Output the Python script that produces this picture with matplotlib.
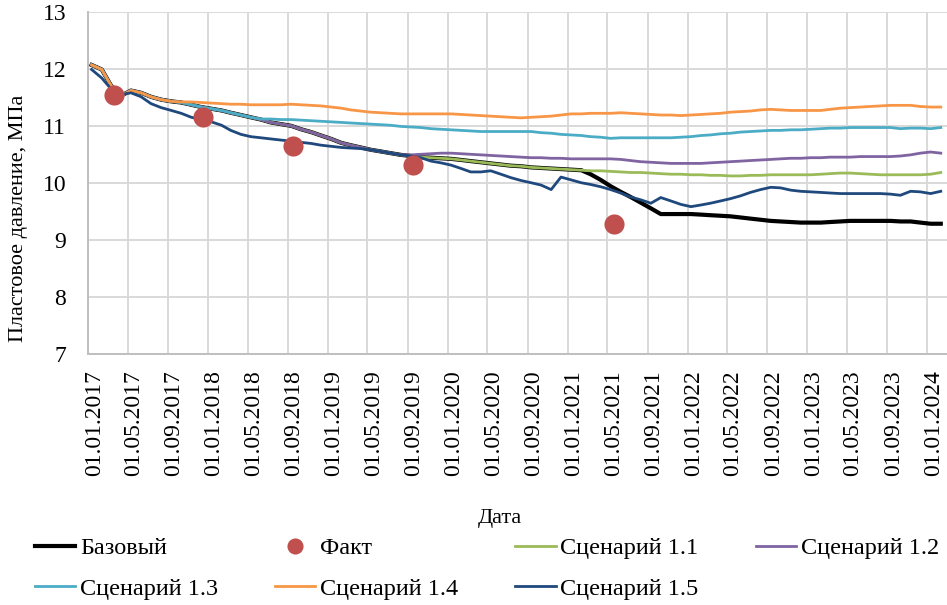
import pandas as pd
import matplotlib
matplotlib.use('Agg')
import matplotlib.pyplot as plt
import matplotlib.dates as mdates
import matplotlib.transforms as mtransforms

plt.rcParams['font.family'] = ['Liberation Serif', 'DejaVu Serif']
plt.rcParams['font.size'] = 16

# monthly model points (around the 11th of each month), Jan 2017 - Feb 2024
dates = pd.date_range('2017-01-01', periods=86, freq='MS') + pd.Timedelta(days=10)

base = [12.07, 11.99, 11.71, 11.53, 11.62, 11.58, 11.51, 11.46, 11.43, 11.41,
        11.37, 11.33, 11.30, 11.27, 11.23, 11.19, 11.15, 11.11, 11.06, 11.03,
        11.00, 10.94, 10.89, 10.83, 10.77, 10.70, 10.66, 10.62, 10.58, 10.55,
        10.52, 10.49, 10.47, 10.45, 10.44, 10.43, 10.42, 10.40, 10.38, 10.36,
        10.34, 10.32, 10.30, 10.29, 10.27, 10.26, 10.25, 10.24, 10.23, 10.22,
        10.15, 10.05, 9.94, 9.84, 9.75, 9.65, 9.55, 9.45, 9.45, 9.45,
        9.45, 9.44, 9.43, 9.42, 9.41, 9.39, 9.37, 9.35, 9.33, 9.32,
        9.31, 9.30, 9.30, 9.30, 9.31, 9.32, 9.33, 9.33, 9.33, 9.33,
        9.33, 9.32, 9.32, 9.30, 9.28, 9.28]

# scenarios follow the base case until they branch off
s11 = base[:50] + [
    10.21, 10.21, 10.20, 10.19, 10.18, 10.18, 10.17, 10.16, 10.15, 10.15,
    10.14, 10.14, 10.13, 10.13, 10.12, 10.12, 10.13, 10.13, 10.14, 10.14,
    10.14, 10.14, 10.14, 10.15, 10.16, 10.17, 10.17, 10.16, 10.15, 10.14,
    10.14, 10.14, 10.14, 10.14, 10.15, 10.18]

s12 = base[:32] + [
    10.49, 10.50, 10.51, 10.52, 10.52, 10.51, 10.50, 10.49, 10.48, 10.47,
    10.46, 10.45, 10.44, 10.44, 10.43, 10.43, 10.42, 10.42, 10.42, 10.42,
    10.42, 10.41, 10.39, 10.37, 10.36, 10.35, 10.34, 10.34, 10.34, 10.34,
    10.35, 10.36, 10.37, 10.38, 10.39, 10.40, 10.41, 10.42, 10.43, 10.43,
    10.44, 10.44, 10.45, 10.45, 10.45, 10.46, 10.46, 10.46, 10.46, 10.47,
    10.49, 10.52, 10.54, 10.52]

s13 = base[:17] + [
    11.12, 11.12, 11.11, 11.11, 11.10, 11.09, 11.08, 11.07, 11.06, 11.05,
    11.04, 11.03, 11.02, 11.01, 10.99, 10.98, 10.97, 10.95, 10.94, 10.93,
    10.92, 10.91, 10.90, 10.90, 10.90, 10.90, 10.90, 10.90, 10.88, 10.87,
    10.85, 10.84, 10.83, 10.81, 10.80, 10.78, 10.79, 10.79, 10.79, 10.79,
    10.79, 10.79, 10.80, 10.81, 10.83, 10.84, 10.86, 10.87, 10.89, 10.90,
    10.91, 10.92, 10.92, 10.93, 10.93, 10.94, 10.95, 10.96, 10.96, 10.97,
    10.97, 10.97, 10.97, 10.97, 10.95, 10.96, 10.96, 10.95, 10.97]

s14 = base[:9] + [
    11.42, 11.42, 11.41, 11.40, 11.39, 11.38, 11.38, 11.37, 11.37, 11.37,
    11.37, 11.38, 11.37, 11.36, 11.35, 11.33, 11.31, 11.28, 11.26, 11.24,
    11.23, 11.22, 11.21, 11.21, 11.21, 11.21, 11.21, 11.21, 11.20, 11.19,
    11.18, 11.17, 11.16, 11.15, 11.14, 11.15, 11.16, 11.17, 11.19, 11.21,
    11.21, 11.22, 11.22, 11.22, 11.23, 11.22, 11.21, 11.20, 11.19, 11.19,
    11.18, 11.19, 11.20, 11.21, 11.22, 11.24, 11.25, 11.26, 11.28, 11.29,
    11.28, 11.27, 11.27, 11.27, 11.27, 11.29, 11.31, 11.32, 11.33, 11.34,
    11.35, 11.36, 11.36, 11.36, 11.34, 11.33, 11.33]

s15 = [11.99, 11.84, 11.65, 11.55, 11.58, 11.51, 11.39, 11.32, 11.27, 11.22,
       11.15, 11.11, 11.07, 11.01, 10.92, 10.85, 10.81, 10.79, 10.77, 10.75,
       10.73, 10.71, 10.69, 10.66, 10.64, 10.62, 10.61, 10.60, 10.58, 10.55,
       10.52, 10.49, 10.47, 10.44, 10.38, 10.35, 10.31, 10.25, 10.19, 10.19,
       10.21, 10.15, 10.09, 10.04, 10.00, 9.96, 9.88, 10.10, 10.05, 10.00,
       9.97, 9.93, 9.88, 9.82, 9.75, 9.70, 9.64, 9.74, 9.68, 9.62,
       9.58, 9.61, 9.64, 9.68, 9.72, 9.77, 9.83, 9.88, 9.92, 9.91,
       9.87, 9.85, 9.84, 9.83, 9.82, 9.81, 9.81, 9.81, 9.81, 9.81,
       9.80, 9.78, 9.85, 9.84, 9.81, 9.85]

fact_dates = pd.to_datetime(['2017-03-21', '2017-12-17', '2018-09-18',
                             '2019-09-18', '2021-05-21'])
fact = [11.55, 11.15, 10.65, 10.32, 9.27]

fig = plt.figure(figsize=(9.47, 6.05), dpi=100)
ax = fig.add_axes([88.3 / 947, 1 - 353.5 / 605, 858.7 / 947, 341.5 / 605])

ax.plot(dates, base, color='black', lw=3.0, label='Базовый', zorder=3)
ax.plot(dates, s11, color='#9BBB59', lw=2.0, label='Сценарий 1.1', zorder=4)
ax.plot(dates, s12, color='#8064A2', lw=2.0, label='Сценарий 1.2', zorder=5)
ax.plot(dates, s13, color='#4BACC6', lw=2.0, label='Сценарий 1.3', zorder=6)
ax.plot(dates, s14, color='#F79646', lw=2.0, label='Сценарий 1.4', zorder=7)
ax.plot(dates, s15, color='#1F497D', lw=2.0, label='Сценарий 1.5', zorder=8)
ax.plot(fact_dates, fact, 'o', color='#C0504D', ms=14.5, mec='none',
        label='Факт', zorder=9)

ax.set_xlim(pd.Timestamp('2017-01-01'), pd.Timestamp('2024-03-01'))
ax.set_ylim(7, 13)
ax.set_yticks(range(7, 14))
ax.xaxis.set_major_locator(mdates.MonthLocator(bymonth=[1, 5, 9]))
ax.xaxis.set_major_formatter(mdates.DateFormatter('%d.%m.%Y'))

ax.tick_params(axis='both', length=0, labelsize=17)
ax.tick_params(axis='y', pad=16)
ax.tick_params(axis='x', pad=12)
shift = mtransforms.ScaledTranslation(6 / 100, 0, fig.dpi_scale_trans)
for lab in ax.get_xticklabels():
    lab.set_rotation(90)
    lab.set_transform(lab.get_transform() + shift)

ax.grid(True, color='#D9D9D9', lw=1.4)
ax.set_axisbelow(True)
ax.spines[['top', 'right']].set_visible(False)
for side in ['left', 'bottom']:
    ax.spines[side].set_color('#BFBFBF')
    ax.spines[side].set_linewidth(1.4)

ax.set_ylabel('Пластовое давление, МПа')
ax.yaxis.set_label_coords(-0.07, 0.397)
ax.set_xlabel('Дата')
ax.xaxis.set_label_coords(0.479, -0.455)

# legend: 4 columns, filled row by row
handles, labels = ax.get_legend_handles_labels()
order = ['Базовый', 'Факт', 'Сценарий 1.1', 'Сценарий 1.2',
         'Сценарий 1.3', 'Сценарий 1.4', 'Сценарий 1.5']
lookup = dict(zip(labels, handles))
col_major = [0, 4, 1, 5, 2, 6, 3]
fig.legend([lookup[order[i]] for i in col_major], [order[i] for i in col_major],
           loc='upper left', bbox_to_anchor=(35 / 947, 1 - 537 / 605), ncol=4,
           frameon=False, fontsize=17.5, handlelength=1.65, handletextpad=0.2,
           columnspacing=2.35, labelspacing=0.78, borderpad=0, borderaxespad=0,
           markerscale=0.8)

fig.savefig('out.png', dpi=100)
